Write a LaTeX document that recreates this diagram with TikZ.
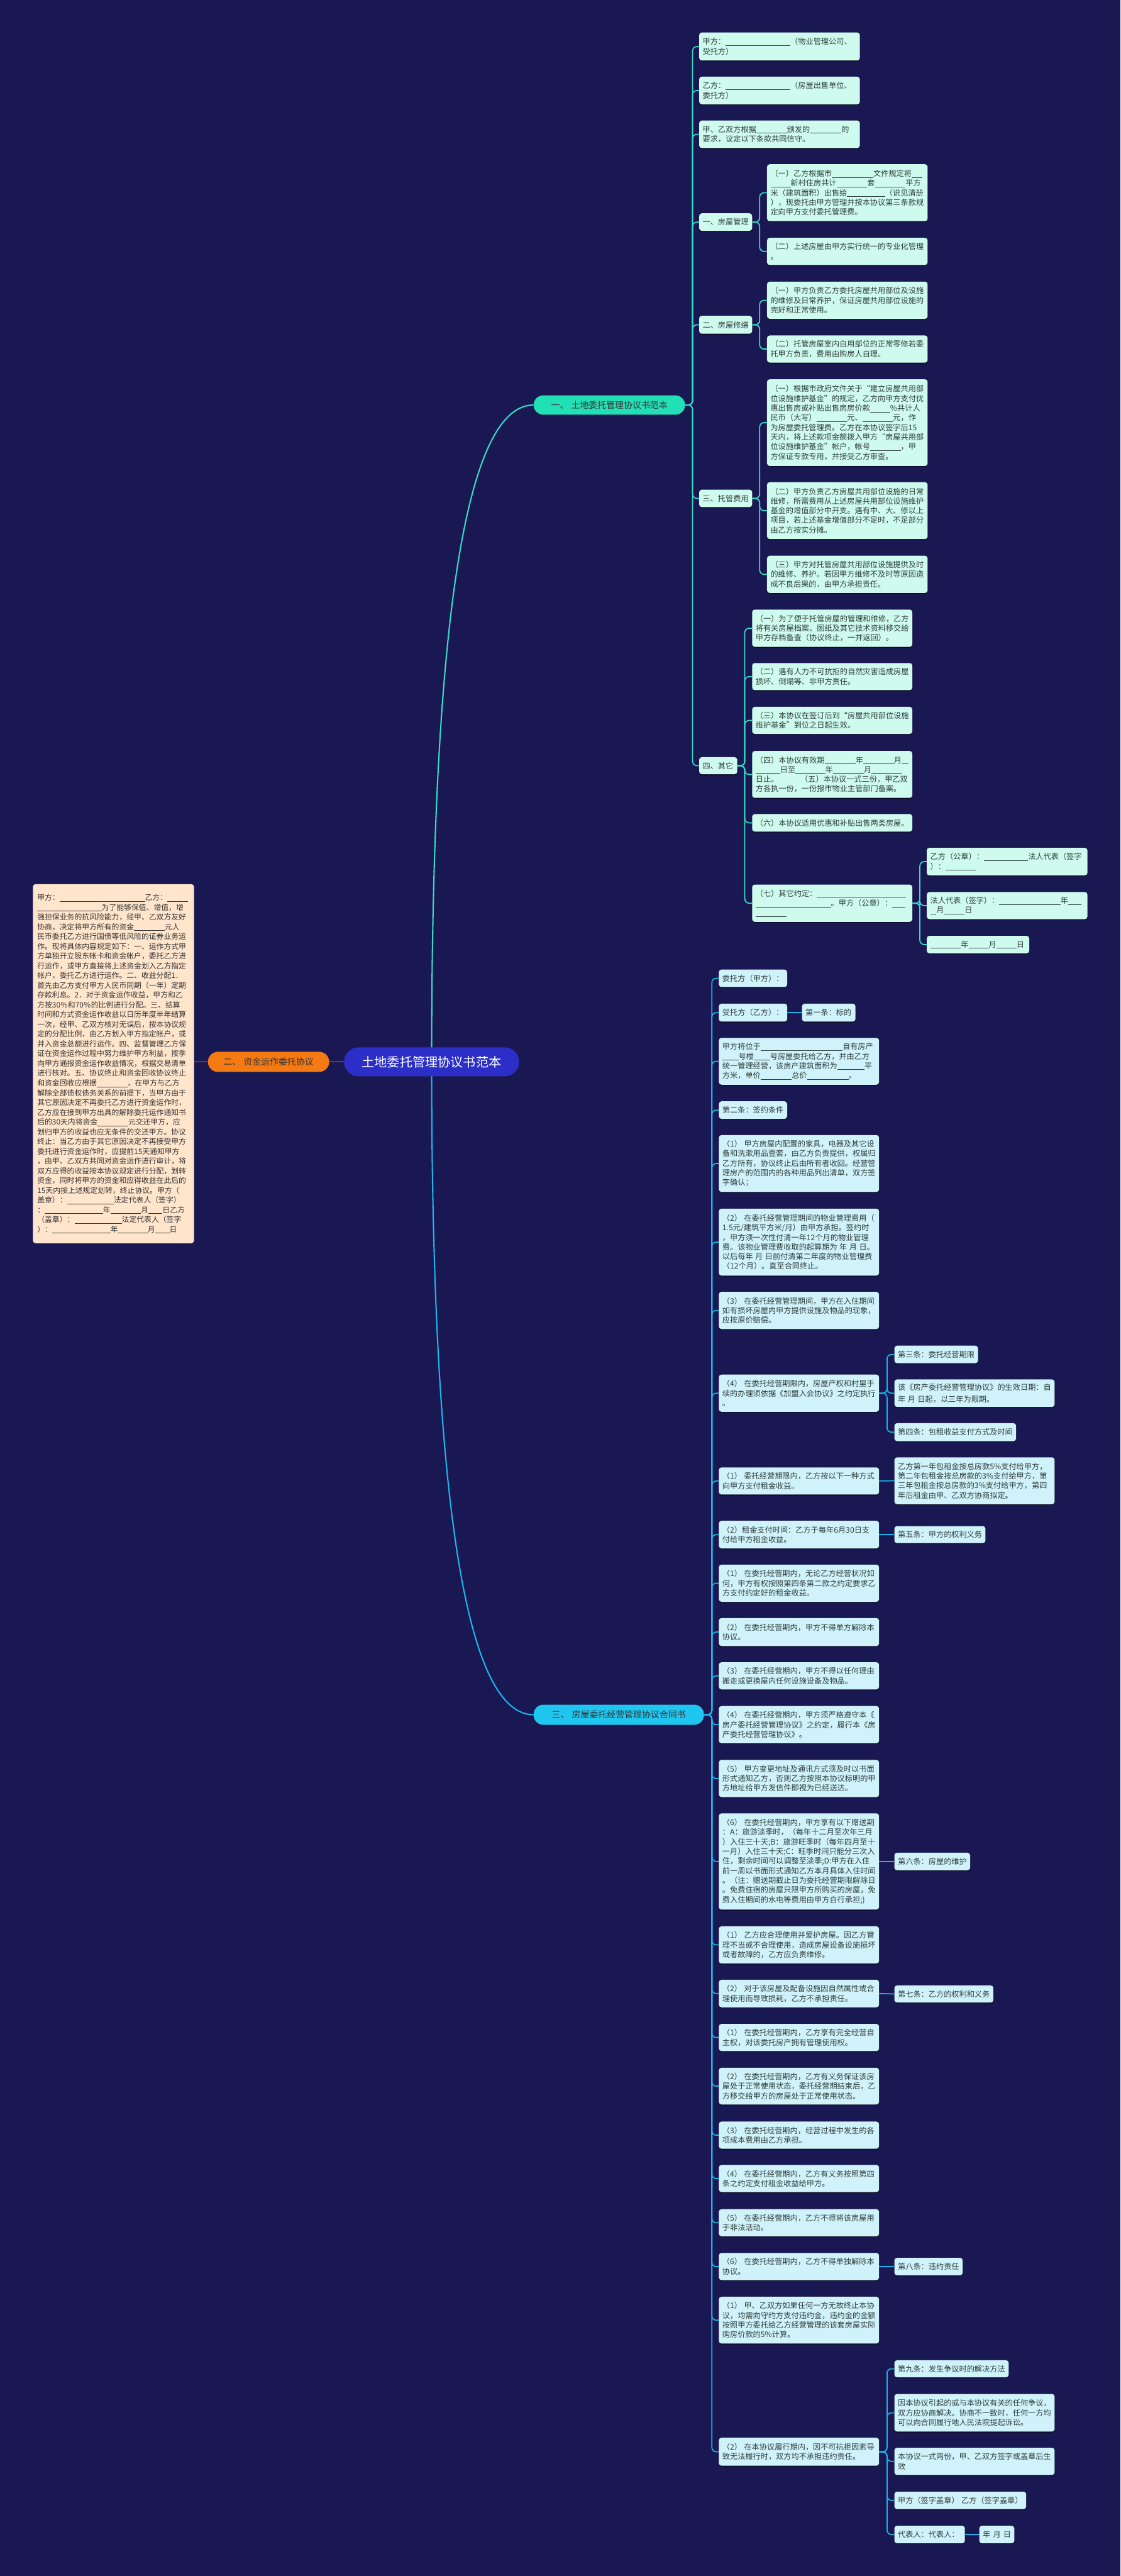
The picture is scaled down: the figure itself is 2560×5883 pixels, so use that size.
\documentclass[tikz,border=0pt]{standalone}
\usepackage{fontspec}
\setmainfont{Noto Sans CJK SC}
\usetikzlibrary{shadows}
\definecolor{bgc}{HTML}{1A1852}
\definecolor{tfill}{HTML}{CFFBEF}
\definecolor{cfill}{HTML}{D0F3FB}
\definecolor{tline}{HTML}{36DCC8}
\definecolor{cline}{HTML}{1AB6EC}
\definecolor{txt}{HTML}{2F3D3B}
\definecolor{cblue}{HTML}{2B2FC8}
\definecolor{oran}{HTML}{F57A14}
\definecolor{tgreen}{HTML}{22E0B5}
\definecolor{tcyan}{HTML}{1EC6F0}
\definecolor{peach}{HTML}{FFE5CC}
\pgfdeclarelayer{bg}
\pgfsetlayers{bg,main}
\newcommand\bl[1]{\rule[-2.5pt]{#1pt}{1pt}}
\newcommand\gap[1]{\kern#1pt}
\newcommand\bx[7]{%
  \pgfmathsetmacro\bxw{#5-#3-16}%
  \pgfmathsetmacro\bxh{#6-#4}%
  \node[#2, anchor=north west, text width=\bxw pt, minimum height=\bxh pt] (#1) at (#3,#4) {#7};}
\tikzset{
  box/.style={rounded corners=6pt, inner xsep=8pt, inner ysep=3pt, align=left, text=txt,
    font=\fontsize{17.5}{22}\selectfont,
    drop shadow={shadow xshift=0pt, shadow yshift=-2pt, opacity=0.55, fill=black}},
  ta/.style={box, fill=tfill},
  cb/.style={box, fill=cfill},
  tl/.style={draw=tline, line width=2.5pt, rounded corners=10pt},
  cl/.style={draw=cline, line width=2.5pt, rounded corners=10pt},
  pill/.style={rounded corners=22pt, inner sep=0pt, align=center},
}
\begin{document}
\begin{tikzpicture}[x=1pt,y=-1pt]
\useasboundingbox (0,0) rectangle (2560,5883);
\begin{pgfonlayer}{bg}
\fill[bgc] (0,0) rectangle (2560,5883);
\end{pgfonlayer}

% central and main branches
\node[pill, fill=cblue, text=white, minimum width=400pt, minimum height=66pt, rounded corners=33pt,
  font=\fontsize{29}{32}\selectfont] (C) at (986,2425) {土地委托管理协议书范本};
\node[pill, fill=oran, text=black!80, minimum width=277pt, minimum height=46pt, rounded corners=23pt,
  font=\fontsize{20}{24}\selectfont] (O) at (613.5,2425) {二、\gap{6}资金运作委托协议};
\node[pill, fill=tgreen, text=black!80, minimum width=346pt, minimum height=44pt,
  font=\fontsize{20}{24}\selectfont] (B1) at (1392,925) {一、\gap{6}土地委托管理协议书范本};
\node[pill, fill=tcyan, text=black!80, minimum width=389pt, minimum height=46pt,
  font=\fontsize{20}{24}\selectfont] (B3) at (1413.5,3916) {三、\gap{6}房屋委托经营管理协议合同书};

% left text box
\node[rounded corners=6pt, fill=peach, text=black!80, anchor=north west, inner xsep=10pt, inner ysep=4pt,
  text width=348pt, minimum height=820pt, align=left, font=\fontsize{17}{22.3}\selectfont] (L) at (75,2019) {%
甲方：\bl{195}乙方：\bl{47}\\
\bl{147}为了能够保值、增值，增\\
强担保业务的抗风险能力，经甲、乙双方友好\\
协商，决定将甲方所有的资金\bl{70}元人\\
民币委托乙方进行国债等低风险的证券业务运\\
作。现将具体内容规定如下：一、运作方式甲\\
方单独开立股东帐卡和资金帐户，委托乙方进\\
行运作，或甲方直接将上述资金划入乙方指定\\
帐户，委托乙方进行运作。二、收益分配1．\\
首先由乙方支付甲方人民币同期（一年）定期\\
存款利息。2．对于资金运作收益，甲方和乙\\
方按30％和70％的比例进行分配。三、结算\\
时间和方式资金运作收益以日历年度半年结算\\
一次，经甲、乙双方核对无误后，按本协议规\\
定的分配比例，由乙方划入甲方指定帐户，或\\
并入资金总额进行运作。四、监督管理乙方保\\
证在资金运作过程中努力维护甲方利益，按季\\
向甲方通报资金运作收益情况，根据交易清单\\
进行核对。五、协议终止和资金回收协议终止\\
和资金回收应根据\bl{70}，在甲方与乙方\\
解除全部债权债务关系的前提下，当甲方由于\\
其它原因决定不再委托乙方进行资金运作时，\\
乙方应在接到甲方出具的解除委托运作通知书\\
后的30天内将资金\bl{70}元交还甲方，应\\
划归甲方的收益也应无条件的交还甲方。协议\\
终止：当乙方由于其它原因决定不再接受甲方\\
委托进行资金运作时，应提前15天通知甲方\\
，由甲、乙双方共同对资金运作进行审计，将\\
双方应得的收益按本协议规定进行分配，划转\\
资金，同时将甲方的资金和应得收益在此后的\\
15天内按上述规定划转，终止协议。甲方（\\
盖章）：\bl{107}法定代表人（签字）\\
：\bl{133}年\bl{70}月\bl{32}日乙方\\
（盖章）：\bl{108}法定代表人（签字\\
）：\bl{133}年\bl{68}月\bl{33}日};

% branch one
\bx{a1}{ta}{1597}{74}{1964}{138}{甲方：\bl{148}（物业管理公司、\\受托方）}
\bx{a2}{ta}{1597}{175}{1964}{238}{乙方：\bl{148}（房屋出售单位、\\委托方）}
\bx{a3}{ta}{1597}{275}{1964}{338}{甲、乙双方根据\bl{70}颁发的\bl{72}的\\要求，议定以下条款共同信守。}
\bx{a4}{ta}{1597}{487}{1718}{527}{一、房屋管理}
\bx{a41}{ta}{1752}{375}{2119}{505}{（一）乙方根据市\bl{95}文件规定将\bl{24}\\\bl{46}新村住房共计\bl{70}套\bl{70}平方\\米（建筑面积）出售给\bl{87}（说见清册\\），现委托由甲方管理并按本协议第三条款规\\定向甲方支付委托管理费。}
\bx{a42}{ta}{1752}{543}{2119}{605}{（二）上述房屋由甲方实行统一的专业化管理\\。}
\bx{a5}{ta}{1597}{721}{1718}{762}{二、房屋修缮}
\bx{a51}{ta}{1752}{643}{2119}{728}{（一）甲方负责乙方委托房屋共用部位及设施\\的维修及日常养护，保证房屋共用部位设施的\\完好和正常使用。}
\bx{a52}{ta}{1752}{766}{2119}{828}{（二）托管房屋室内自用部位的正常零修若委\\托甲方负责，费用由购房人自理。}
\bx{a6}{ta}{1597}{1118}{1718}{1158}{三、托管费用}
\bx{a61}{ta}{1752}{866}{2119}{1064}{（一）根据市政府文件关于“建立房屋共用部\\位设施维护基金”的规定，乙方向甲方支付优\\惠出售房或补贴出售房房价款\bl{46}\%共计人\\民币（大写）\bl{70}元、\bl{70}元，作\\为房屋委托管理费。乙方在本协议签字后15\\天内，将上述款项金额拨入甲方“房屋共用部\\位设施维护基金”帐户，帐号\bl{70}，甲\\方保证专款专用，并接受乙方审查。}
\bx{a62}{ta}{1752}{1101}{2119}{1231}{（二）甲方负责乙方房屋共用部位设施的日常\\维修，所需费用从上述房屋共用部位设施维护\\基金的增值部分中开支。遇有中、大、修以上\\项目，若上述基金增值部分不足时，不足部分\\由乙方按实分摊。}
\bx{a63}{ta}{1752}{1269}{2119}{1354}{（三）甲方对托管房屋共用部位设施提供及时\\的维修、养护。若因甲方维修不及时等原因造\\成不良后果的，由甲方承担责任。}
\bx{a7}{ta}{1597}{1729}{1684}{1768}{四、其它}
\bx{a71}{ta}{1718}{1392}{2084}{1477}{（一）为了便于托管房屋的管理和维修，乙方\\将有关房屋档案、图纸及其它技术资料移交给\\甲方存档备查（协议终止，一并返回）。}
\bx{a72}{ta}{1718}{1514}{2084}{1576}{（二）遇有人力不可抗拒的自然灾害造成房屋\\损坏、倒塌等、非甲方责任。}
\bx{a73}{ta}{1718}{1614}{2084}{1676}{（三）本协议在签订后到“房屋共用部位设施\\维护基金”到位之日起生效。}
\bx{a74}{ta}{1718}{1715}{2084}{1822}{（四）本协议有效期\bl{71}年\bl{70}月\bl{16}\\\bl{56}日至\bl{68}年\bl{71}月\bl{69}\\日止。\gap{50}（五）本协议一式三份，甲乙双\\方各执一份，一份报市物业主管部门备案。}
\bx{a76}{ta}{1718}{1859}{2084}{1899}{（六）本协议适用优惠和补贴出售两类房屋。}
\bx{a77}{ta}{1718}{2020}{2084}{2105}{（七）其它约定：\bl{203}\\\bl{172}。甲方（公章）：\bl{30}\\\bl{70}}
\bx{a771}{ta}{2117}{1936}{2484}{1999}{乙方（公章）：\bl{101}法人代表（签字\\）：\bl{70}}
\bx{a772}{ta}{2117}{2037}{2484}{2099}{法人代表（签字）：\bl{140}年\bl{30}\\\bl{14}月\bl{47}日}
\bx{a773}{ta}{2117}{2137}{2351}{2177}{\bl{70}年\bl{46}月\bl{46}日}

% branch three
\bx{b1}{cb}{1642}{2214}{1798}{2254}{委托方（甲方）：}
\bx{b2}{cb}{1642}{2292}{1798}{2333}{受托方（乙方）：}
\bx{b2c}{cb}{1832}{2292}{1954}{2333}{第一条：标的}
\bx{b3}{cb}{1642}{2370}{2008}{2477}{甲方将位于\bl{187}自有房产\\\bl{37}号楼\bl{37}号房屋委托给乙方，并由乙方\\统一管理经营，该房产建筑面积为\bl{62}平\\方米，单价\bl{71}总价\bl{95}。}
\bx{b4}{cb}{1642}{2515}{1798}{2555}{第二条：签约条件}
\bx{b5}{cb}{1642}{2592}{2008}{2722}{（1）\gap{5}甲方房屋内配置的家具，电器及其它设\\备和洗漱用品壹套，由乙方负责提供，权属归\\乙方所有，协议终止后由所有者收回。经营管\\理房产的范围内的各种用品列出清单，双方签\\字确认；}
\bx{b6}{cb}{1642}{2760}{2008}{2913}{（2）\gap{5}在委托经营管理期间的物业管理费用（\\1.5元/建筑平方米/月）由甲方承担。签约时\\，甲方须一次性付清一年12个月的物业管理\\费。该物业管理费收取的起算期为\gap{5}年\gap{5}月\gap{5}日。\\以后每年\gap{5}月\gap{5}日前付清第二年度的物业管理费\\（12个月）。直至合同终止。}
\bx{b7}{cb}{1642}{2950}{2008}{3035}{（3）\gap{5}在委托经营管理期间，甲方在入住期间\\如有损坏房屋内甲方提供设施及物品的现象，\\应按原价赔偿。}
\bx{b8}{cb}{1642}{3139}{2008}{3224}{（4）\gap{5}在委托经营期限内，房屋产权和村里手\\续的办理须依据《加盟入会协议》之约定执行\\。}
\bx{b81}{cb}{2043}{3073}{2234}{3113}{第三条：委托经营期限}
\bx{b82}{cb}{2043}{3150}{2409}{3213}{该《房产委托经营管理协议》的生效日期：自\\\gap{5}年\gap{5}月\gap{5}日起，以三年为限期。}
\bx{b83}{cb}{2043}{3250}{2321}{3291}{第四条：包租收益支付方式及时间}
\bx{b9}{cb}{1642}{3351}{2008}{3413}{（1）\gap{5}委托经营期限内，乙方按以下一种方式\\向甲方支付租金收益。}
\bx{b91}{cb}{2043}{3328}{2409}{3435}{乙方第一年包租金按总房款5\%支付给甲方，\\第二年包租金按总房款的3\%支付给甲方，第\\三年包租金按总房款的3\%支付给甲方，第四\\年后租金由甲、乙双方协商拟定。}
\bx{b10}{cb}{1642}{3473}{2008}{3536}{（2）租金支付时间：乙方于每年6月30日支\\付给甲方租金收益。}
\bx{b101}{cb}{2043}{3485}{2251}{3524}{第五条：甲方的权利义务}
\bx{b11}{cb}{1642}{3573}{2008}{3658}{（1）\gap{5}在委托经营期内，无论乙方经营状况如\\何，甲方有权按照第四条第二款之约定要求乙\\方支付约定好的租金收益。}
\bx{b12}{cb}{1642}{3695}{2008}{3759}{（2）\gap{5}在委托经营期内，甲方不得单方解除本\\协议。}
\bx{b13}{cb}{1642}{3796}{2008}{3858}{（3）\gap{5}在委托经营期内，甲方不得以任何理由\\搬走或更换屋内任何设施设备及物品。}
\bx{b14}{cb}{1642}{3896}{2008}{3981}{（4）\gap{5}在委托经营期内，甲方须严格遵守本《\\房产委托经营管理协议》之约定，履行本《房\\产委托经营管理协议》。}
\bx{b15}{cb}{1642}{4019}{2008}{4104}{（5）\gap{5}甲方变更地址及通讯方式须及时以书面\\形式通知乙方，否则乙方按照本协议标明的甲\\方地址给甲方发信件即视为已经送达。}
\bx{b16}{cb}{1642}{4141}{2008}{4361}{（6）\gap{5}在委托经营期内，甲方享有以下赠送期\\：A：旅游淡季时，（每年十二月至次年三月\\）入住三十天;B：旅游旺季时（每年四月至十\\一月）入住三十天;C：旺季时间只能分三次入\\住，剩余时间可以调整至淡季;D:甲方在入住\\前一周以书面形式通知乙方本月具体入住时间\\。（注：赠送期截止日为委托经营期限解除日\\。免费住宿的房屋只限甲方所购买的房屋，免\\费入住期间的水电等费用由甲方自行承担;)}
\bx{b161}{cb}{2043}{4231}{2216}{4271}{第六条：房屋的维护}
\bx{b17}{cb}{1642}{4399}{2008}{4484}{（1）\gap{5}乙方应合理使用并爱护房屋。因乙方管\\理不当或不合理使用，造成房屋设备设施损坏\\或者故障的，乙方应负责维修。}
\bx{b18}{cb}{1642}{4521}{2008}{4584}{（2）\gap{5}对于该房屋及配备设施因自然属性或合\\理使用而导致损耗，乙方不承担责任。}
\bx{b181}{cb}{2043}{4534}{2269}{4573}{第七条：乙方的权利和义务}
\bx{b19}{cb}{1642}{4622}{2008}{4684}{（1）\gap{5}在委托经营期内，乙方享有完全经营自\\主权，对该委托房产拥有管理使用权。}
\bx{b20}{cb}{1642}{4722}{2008}{4806}{（2）\gap{5}在委托经营期内，乙方有义务保证该房\\屋处于正常使用状态，委托经营期结束后，乙\\方移交给甲方的房屋处于正常使用状态。}
\bx{b21}{cb}{1642}{4845}{2008}{4907}{（3）\gap{5}在委托经营期内，经营过程中发生的各\\项成本费用由乙方承担。}
\bx{b22}{cb}{1642}{4944}{2008}{5006}{（4）\gap{5}在委托经营期内，乙方有义务按照第四\\条之约定支付租金收益给甲方。}
\bx{b23}{cb}{1642}{5045}{2008}{5107}{（5）\gap{5}在委托经营期内，乙方不得将该房屋用\\于非法活动。}
\bx{b24}{cb}{1642}{5145}{2008}{5207}{（6）\gap{5}在委托经营期内，乙方不得单独解除本\\协议。}
\bx{b241}{cb}{2043}{5156}{2199}{5196}{第八条：违约责任}
\bx{b25}{cb}{1642}{5245}{2008}{5352}{（1）\gap{5}甲、乙双方如果任何一方无故终止本协\\议，均需向守约方支付违约金，违约金的金额\\按照甲方委托给乙方经营管理的该套房屋实际\\购房价款的5\%计算。}
\bx{b26}{cb}{1642}{5567}{2008}{5631}{（2）\gap{5}在本协议履行期内，因不可抗拒因素导\\致无法履行时，双方均不承担违约责任。}
\bx{b261}{cb}{2043}{5390}{2304}{5429}{第九条：发生争议时的解决方法}
\bx{b262}{cb}{2043}{5467}{2409}{5553}{因本协议引起的或与本协议有关的任何争议，\\双方应协商解决。协商不一致时，任何一方均\\可以向合同履行地人民法院提起诉讼。}
\bx{b263}{cb}{2043}{5590}{2409}{5652}{本协议一式两份，甲、乙双方签字或盖章后生\\效}
\bx{b264}{cb}{2043}{5690}{2344}{5730}{甲方（签字盖章）\gap{5}乙方（签字盖章）}
\bx{b265}{cb}{2043}{5768}{2204}{5808}{代表人：代表人：}
\bx{b266}{cb}{2237}{5768}{2317}{5808}{年\gap{6}月\gap{6}日}

% connectors
\begin{pgfonlayer}{bg}
\draw[tline, line width=3pt] (C.center) .. controls (986,1425) and (1063,925) .. (B1.west);
\draw[cline, line width=3pt] (C.center) .. controls (986,3419) and (1063,3916) .. (B3.west);
\draw[oran, line width=2pt] (C.west) -- (O.east);
\draw[oran, line width=2pt] (O.west) -- (O.west -| L.east);
\foreach \c in {a1,a2,a3,a4,a5,a6,a7} \draw[tl] (B1.east) -- ++(17,0) |- (\c.west);
\foreach \c in {a41,a42} \draw[tl] (a4.east) -- ++(17,0) |- (\c.west);
\foreach \c in {a51,a52} \draw[tl] (a5.east) -- ++(17,0) |- (\c.west);
\foreach \c in {a61,a62,a63} \draw[tl] (a6.east) -- ++(17,0) |- (\c.west);
\foreach \c in {a71,a72,a73,a74,a76,a77} \draw[tl] (a7.east) -- ++(17,0) |- (\c.west);
\foreach \c in {a771,a772,a773} \draw[tl] (a77.east) -- ++(17,0) |- (\c.west);
\foreach \c in {b1,b2,b3,b4,b5,b6,b7,b8,b9,b10,b11,b12,b13,b14,b15,b16,b17,b18,b19,b20,b21,b22,b23,b24,b25,b26}
  \draw[cl] (B3.east) -- ++(18,0) |- (\c.west);
\foreach \c in {b81,b82,b83} \draw[cl] (b8.east) -- ++(18,0) |- (\c.west);
\foreach \c in {b261,b262,b263,b264,b265} \draw[cl] (b26.east) -- ++(18,0) |- (\c.west);
\draw[cl] (b2.east) -- (b2c.west);
\draw[cl] (b9.east) -- (b91.west);
\draw[cl] (b10.east) -- (b101.west);
\draw[cl] (b16.east) -- (b161.west);
\draw[cl] (b18.east) -- (b181.west);
\draw[cl] (b24.east) -- (b241.west);
\draw[cl] (b265.east) -- (b266.west);
\end{pgfonlayer}
\end{tikzpicture}
\end{document}
